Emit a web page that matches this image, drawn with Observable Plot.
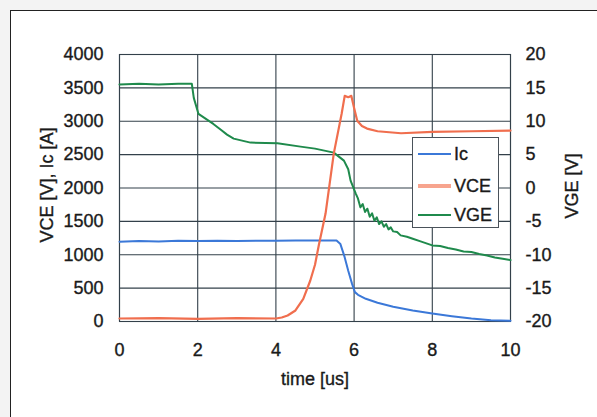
<!DOCTYPE html>
<html>
<head>
<meta charset="utf-8">
<script src="https://cdn.jsdelivr.net/npm/d3@7"></script>
<script src="https://cdn.jsdelivr.net/npm/@observablehq/plot@0.6"></script>
<style>
  html, body { margin: 0; padding: 0; background: #f3f3f3; overflow: hidden; }
  #wrap { position: relative; width: 597px; height: 417px; }
  #frame { position: absolute; left: 10px; top: 10px; width: 640px; height: 460px;
           border-top: 1.5px solid #222; border-left: 1.5px solid #222; background: #fff; }
  #chart { position: absolute; left: 0; top: 0; }
  #chart svg text { stroke: #1a1a1a; stroke-width: 0.35px; }
  #legend { position: absolute; left: 412px; top: 137px; width: 85px; height: 89px;
            border: 1.3px solid #4a525a; background: #fff;
            font-family: "Liberation Sans", Arial, sans-serif; font-size: 18px; color: #1a1a1a;
            -webkit-text-stroke: 0.35px #1a1a1a; }
  .row { position: absolute; left: 0; height: 20px; }
  .sw { position: absolute; left: 5px; width: 33px; top: 10px; }
  .lb { position: absolute; left: 41px; top: 0; line-height: 20px; }
</style>
</head>
<body>
<div id="wrap">
  <div id="frame"></div>
  <div id="chart"></div>
  <div id="legend"></div>
</div>
<script>
// time axis [us]
const xTicks = [0, 2, 4, 6, 8, 10];
const yTicks = [0, 500, 1000, 1500, 2000, 2500, 3000, 3500, 4000];

// Ic [A]
const icT = [0, 0.5, 1, 1.5, 2, 2.5, 3, 3.5, 4, 4.5, 5, 5.55, 5.65, 5.75, 5.85, 5.95, 6.02, 6.1, 6.3, 6.6, 7.0, 7.5, 8.0, 8.5, 9.0, 9.5, 10];
const icV = [1195, 1205, 1200, 1210, 1205, 1210, 1205, 1210, 1210, 1212, 1212, 1212, 1160, 980, 760, 560, 440, 400, 340, 280, 220, 165, 120, 80, 45, 20, 10];

// VCE [V]
const vceT = [0, 1, 2, 3, 4, 4.15, 4.3, 4.5, 4.7, 4.88, 5.0, 5.1, 5.27, 5.48, 5.68, 5.76, 5.85, 5.93, 6.0, 6.08, 6.2, 6.33, 6.6, 7.2, 8, 9, 10];
const vceV = [45, 50, 40, 50, 45, 60, 90, 165, 340, 614, 850, 1150, 1617, 2515, 3109, 3380, 3360, 3380, 3200, 3009, 2930, 2890, 2850, 2820, 2840, 2850, 2860];

// VGE [V] (right axis)
const vgeT = [0, 0.5, 1, 1.5, 1.85, 1.9, 2.02, 2.2, 2.4, 2.6, 2.75, 2.92, 3.35, 4.04, 4.63, 5.0, 5.48, 5.74, 5.85, 5.91, 6.04, 6.1, 6.16, 6.22, 6.28, 6.34, 6.4, 6.46, 6.52, 6.58, 6.64, 6.7, 6.76, 6.82, 6.88, 6.94, 7.0, 7.1, 7.19, 7.35, 7.5, 7.7, 8.0, 8.2, 8.4, 8.6, 8.8, 9.0, 9.2, 9.4, 9.6, 9.8, 10];
const vgeV = [15.5, 15.6, 15.5, 15.6, 15.6, 13.5, 11.1, 10.4, 9.6, 8.7, 8.0, 7.4, 6.8, 6.7, 6.2, 5.9, 5.3, 4.1, 2.8, 1.1, -0.8, -1.6, -2.9, -2.4, -3.6, -3.1, -4.3, -3.8, -4.9, -4.4, -5.4, -5.0, -5.8, -5.4, -6.2, -5.9, -6.5, -6.6, -7.1, -7.3, -7.6, -8.0, -8.6, -8.7, -9.0, -9.2, -9.5, -9.6, -9.9, -10.1, -10.4, -10.6, -10.8];

const seriesNames = ["Ic", "VCE", "VGE"];
const seriesColors = ["#3b78d8", "#f06e4e", "#1f8a4c"];
const legendColors = ["#3b78d8", "#f7a48e", "#1f8a4c"];

// right axis mapping: VGE [-20,20] <-> left [0,4000]
const toLeft = v => (v + 20) * 100;
const fromLeft = d => String(d / 100 - 20);

const ic = icT.map((t, i) => ({t, v: icV[i]}));
const vce = vceT.map((t, i) => ({t, v: vceV[i]}));
const vge = vgeT.map((t, i) => ({t, v: toLeft(vgeV[i])}));

const font = '"Liberation Sans", Arial, sans-serif';
const gridColor = "#33404a";

const chart = Plot.plot({
  width: 597,
  height: 417,
  marginLeft: 119,
  marginRight: 87,
  marginTop: 54,
  marginBottom: 96,
  style: {background: "transparent", fontFamily: font, fontSize: "18px", color: "#1a1a1a"},
  x: {domain: [0, 10]},
  y: {domain: [0, 4000]},
  marks: [
    Plot.gridX(xTicks, {stroke: gridColor, strokeOpacity: 1, strokeWidth: 1.1}),
    Plot.gridY(yTicks, {stroke: gridColor, strokeOpacity: 1, strokeWidth: 1.1}),
    Plot.frame({stroke: gridColor, strokeWidth: 1.1}),
    Plot.axisX({ticks: xTicks, tickSize: 0, tickPadding: 22, label: null, fontSize: 18}),
    Plot.axisY({ticks: yTicks, tickSize: 0, tickPadding: 16, label: null, fontSize: 18, tickFormat: d => String(d)}),
    Plot.axisY({anchor: "right", ticks: yTicks, tickSize: 0, tickPadding: 15, label: null, fontSize: 18, tickFormat: fromLeft, textAnchor: "start"}),
    Plot.line(vge, {x: "t", y: "v", stroke: seriesColors[2], strokeWidth: 2}),
    Plot.line(ic, {x: "t", y: "v", stroke: seriesColors[0], strokeWidth: 2}),
    Plot.line(vce, {x: "t", y: "v", stroke: seriesColors[1], strokeWidth: 2.2}),
    Plot.text(["time [us]"], {frameAnchor: "bottom", textAnchor: "middle", dy: 63, fontSize: 18, fill: "#1a1a1a"}),
    Plot.text(["VCE [V], Ic [A]"], {frameAnchor: "left", textAnchor: "middle", dx: -72, dy: -3, rotate: -90, fontSize: 18, fill: "#1a1a1a", style: "letter-spacing:1px"}),
    Plot.text(["VGE [V]"], {frameAnchor: "right", textAnchor: "middle", dx: 62, dy: -2, rotate: -90, fontSize: 18, fill: "#1a1a1a"})
  ]
});
document.getElementById("chart").appendChild(chart);

// legend
const legend = document.getElementById("legend");
const rowTops = [6, 38, 67];
seriesNames.forEach((name, i) => {
  const row = document.createElement("div");
  row.className = "row";
  row.style.top = rowTops[i] + "px";
  const sw = document.createElement("div");
  sw.className = "sw";
  const th = i === 1 ? 4 : 1.6;
  sw.style.height = th + "px";
  sw.style.marginTop = (-th / 2) + "px";
  sw.style.background = legendColors[i];
  const lb = document.createElement("div");
  lb.className = "lb";
  lb.textContent = name;
  row.appendChild(sw);
  row.appendChild(lb);
  legend.appendChild(row);
});
</script>
</body>
</html>
